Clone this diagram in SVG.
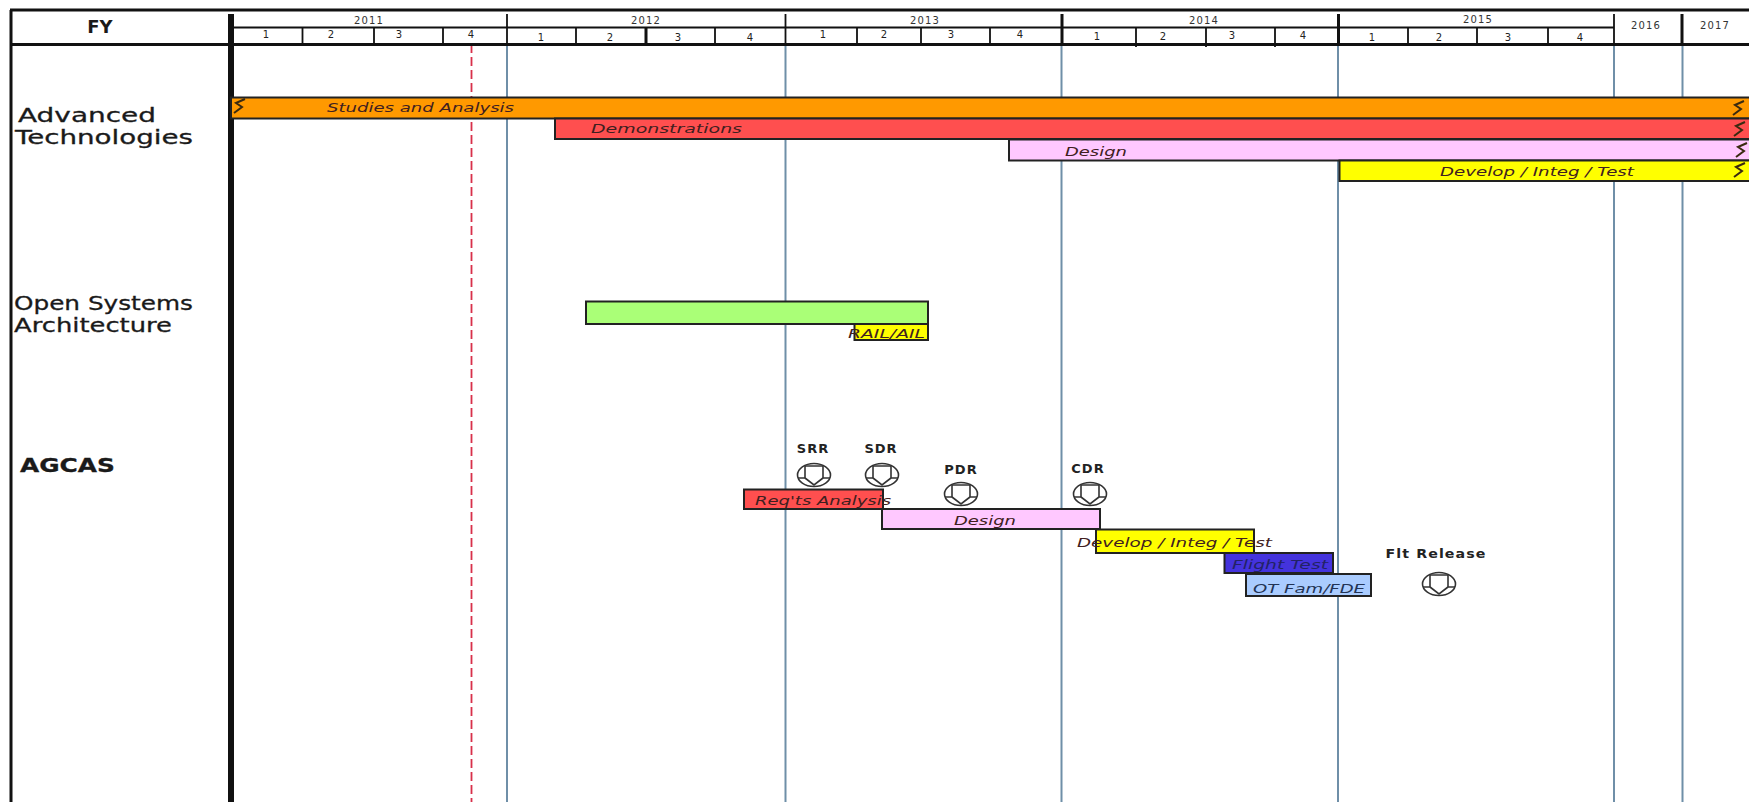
<svg xmlns="http://www.w3.org/2000/svg" width="1749" height="802" viewBox="0 0 1749 802">
<style>
text{font-family:"DejaVu Sans","Liberation Sans",sans-serif;fill:#1a1a1a}
.y{font-size:10px;text-anchor:middle;fill:#333;letter-spacing:1.200px}
.q{font-size:10px;text-anchor:middle;fill:#222}
.h{font-size:20px;font-weight:500;stroke:#1a1a1a;stroke-width:.3}
.b{font-size:13px;font-style:italic;fill:#402020}
.m{font-size:13px;font-weight:bold;text-anchor:middle;fill:#222;letter-spacing:1px}
.g{stroke:#6f8fa8;stroke-width:2;fill:none}
.f{stroke:#111;fill:none}
.r{stroke:#222;stroke-width:2}
.z{fill:none;stroke:#3a2a10;stroke-width:2}
.ic{fill:none;stroke:#333;stroke-width:1.600}
</style>
<defs>
<g id="brk"><path class="z" d="M6-7-3-3 3 1-5 7"/></g>
<g id="ms"><ellipse class="ic" rx="16.500" ry="11.500"/><path class="ic" d="M-16 3H-9V-9H9V3H16M-9 3 0 10 9 3"/></g>
</defs>
<rect width="1749" height="802" fill="#fff"/>
<g id="grid">
<path class="g" d="M507 44V802M785.500 44V802M1061.500 44V802M1338 44V802M1614 44V802M1682.500 44V802"/>
<path d="M471.500 44V802" fill="none" stroke="#d8304a" stroke-width="1.800" stroke-dasharray="9 4"/>
</g>
<g id="header">
<path class="f" stroke-width="3" d="M10 10H1749M11 10V802M10 44.500H1749"/>
<path class="f" stroke-width="1.800" d="M233 27.500H1614"/>
<path class="f" stroke-width="6" d="M231 14V802"/>
<path class="f" stroke-width="1.800" d="M507 14V44M785.500 14V44M1614 14V44M302.500 28V44M374 28V44M443 28V44M576 28V44M715 28V44M857 28V44M921 28V44M990 28V44M1136 28V47M1206 28V47M1275 28V47M1408 28V44M1477 28V44M1548 28V44"/>
<path class="f" stroke-width="3" d="M646 28V44M1062 14V44M1338.500 14V44M1682 14V44"/>
<text x="100" y="33" font-size="18" font-weight="bold" text-anchor="middle">FY</text>
<text class="y" x="369" y="24">2011</text><text class="y" x="646" y="24">2012</text><text class="y" x="925" y="24">2013</text><text class="y" x="1204" y="24">2014</text><text class="y" x="1478" y="23">2015</text><text class="y" x="1646" y="29">2016</text><text class="y" x="1715" y="29">2017</text>
<text class="q" x="266" y="38">1</text><text class="q" x="331" y="38">2</text><text class="q" x="399" y="38">3</text><text class="q" x="471" y="38">4</text>
<text class="q" x="541" y="41">1</text><text class="q" x="610" y="41">2</text><text class="q" x="678" y="41">3</text><text class="q" x="750" y="41">4</text>
<text class="q" x="823" y="38">1</text><text class="q" x="884" y="38">2</text><text class="q" x="951" y="38">3</text><text class="q" x="1020" y="38">4</text>
<text class="q" x="1097" y="40">1</text><text class="q" x="1163" y="40">2</text><text class="q" x="1232" y="39">3</text><text class="q" x="1303" y="39">4</text>
<text class="q" x="1372" y="41">1</text><text class="q" x="1439" y="41">2</text><text class="q" x="1508" y="41">3</text><text class="q" x="1580" y="41">4</text>
</g>
<g id="label-advanced"><text class="h" x="18" y="122" textLength="138" lengthAdjust="spacingAndGlyphs">Advanced</text><text class="h" x="15" y="144" textLength="178" lengthAdjust="spacingAndGlyphs">Technologies</text></g>
<g id="label-osa"><text class="h" x="14" y="310" textLength="179" lengthAdjust="spacingAndGlyphs">Open Systems</text><text class="h" x="14" y="332" textLength="158" lengthAdjust="spacingAndGlyphs">Architecture</text></g>
<g id="label-agcas"><text class="h" style="font-weight:bold" x="20" y="472" textLength="95" lengthAdjust="spacingAndGlyphs">AGCAS</text></g>
<g id="bar-studies"><rect class="r" x="231" y="97.500" width="1520" height="21" fill="#ff9900"/><text class="b" x="327" y="112" textLength="187" lengthAdjust="spacingAndGlyphs">Studies and Analysis</text><use href="#brk" x="239" y="106"/><use href="#brk" x="1738" y="108"/></g>
<g id="bar-demo"><rect class="r" x="555" y="118.500" width="1196" height="20.500" fill="#ff4f4f"/><text class="b" x="591" y="133" textLength="151" lengthAdjust="spacingAndGlyphs">Demonstrations</text><use href="#brk" x="1739" y="129"/></g>
<g id="bar-design-top"><rect class="r" x="1009" y="139.500" width="742" height="21" fill="#ffc8ff"/><text class="b" x="1065" y="156" textLength="62" lengthAdjust="spacingAndGlyphs">Design</text><use href="#brk" x="1741" y="150"/></g>
<g id="bar-develop-top"><rect class="r" x="1339.500" y="160.500" width="412" height="20.500" fill="#ffff00"/><text class="b" x="1440" y="176" textLength="194" lengthAdjust="spacingAndGlyphs">Develop / Integ / Test</text><use href="#brk" x="1739" y="170"/></g>
<g id="bar-osa"><rect class="r" x="586" y="301.500" width="342" height="22.500" fill="#aaff77"/></g>
<g id="bar-rail"><rect class="r" x="854.500" y="324" width="73.500" height="16" fill="#ffff00"/><text class="b" x="848" y="338" textLength="77" lengthAdjust="spacingAndGlyphs">RAIL/AIL</text></g>
<g id="bar-reqs"><rect class="r" x="744" y="489.500" width="139" height="19.500" fill="#ff4f4f"/><text class="b" x="755" y="505" textLength="136" lengthAdjust="spacingAndGlyphs">Req'ts Analysis</text></g>
<g id="bar-design"><rect class="r" x="882" y="509" width="218" height="20" fill="#ffc8ff"/><text class="b" x="954" y="525" textLength="62" lengthAdjust="spacingAndGlyphs">Design</text></g>
<g id="bar-develop"><rect class="r" x="1096" y="529.500" width="158" height="23.500" fill="#ffff00"/><text class="b" x="1077" y="547" textLength="195" lengthAdjust="spacingAndGlyphs">Develop / Integ / Test</text></g>
<g id="bar-flight"><rect class="r" x="1224.500" y="553" width="108.500" height="20" fill="#4433dd"/><text class="b" style="fill:#222266" x="1232" y="569" textLength="96" lengthAdjust="spacingAndGlyphs">Flight Test</text></g>
<g id="bar-ot"><rect class="r" x="1246" y="574" width="125" height="22" fill="#aaccff"/><text class="b" style="fill:#223355" x="1253" y="593" textLength="112" lengthAdjust="spacingAndGlyphs">OT Fam/FDE</text></g>
<g id="ms-srr"><text class="m" x="813" y="453">SRR</text><use href="#ms" x="814" y="475"/></g>
<g id="ms-sdr"><text class="m" x="881" y="453">SDR</text><use href="#ms" x="882" y="475"/></g>
<g id="ms-pdr"><text class="m" x="961" y="474">PDR</text><use href="#ms" x="961" y="494"/></g>
<g id="ms-cdr"><text class="m" x="1088" y="473">CDR</text><use href="#ms" x="1090" y="494"/></g>
<g id="ms-flt"><text class="m" x="1436" y="558" textLength="101" lengthAdjust="spacingAndGlyphs">Flt Release</text><use href="#ms" x="1439" y="584"/></g>
</svg>
